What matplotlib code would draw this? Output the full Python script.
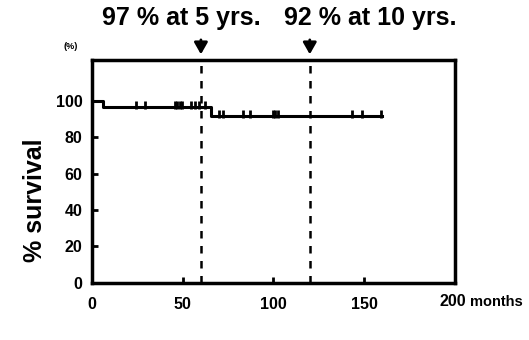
import matplotlib
matplotlib.use("Agg")
import matplotlib.pyplot as plt
import numpy as np

plt.rcParams['font.family'] = ['Liberation Sans', 'DejaVu Sans']
plt.rcParams['font.weight'] = 'bold'

# Kaplan-Meier step data (months, % survival)
step_times = [0, 6, 65.5, 160]
step_values = [100, 96.5, 91.5, 91.5]
censor_times = [24, 29, 45.5, 47, 48.5, 49.5, 54.5, 56.5, 59, 62,
                70, 72, 83, 87, 99.5, 101, 102.5, 143.5, 149, 159.5]
marker_times = [60, 120]
marker_labels = ["97 % at 5 yrs.", "92 % at 10 yrs."]
x_ticks = [0, 50, 100, 150, 200]
y_ticks = [0, 20, 40, 60, 80, 100]

fig = plt.figure(figsize=(5.29, 3.40), dpi=100)
ax = fig.add_axes([0.174, 0.168, 0.686, 0.656])

ax.step(step_times, step_values, where='post', color='black', lw=2.2)

def level_at(t):
    idx = np.searchsorted(step_times, t, side='right') - 1
    return step_values[idx]

cy = [level_at(t) + 1.4 for t in censor_times]
ax.scatter(censor_times, cy, marker='|', s=26, color='black', linewidths=2, zorder=3)

for t in marker_times:
    ax.axvline(t, color='black', lw=1.8, ls=(0, (3, 3)))

ax.set_xlim(0, 200)
ax.set_ylim(0, 122.5)
ax.set_xticks(x_ticks)
ax.set_xticklabels([str(v) for v in x_ticks[:-1]] + [""])
ax.set_yticks(y_ticks)
ax.tick_params(direction='in', length=4, width=2, labelsize=11.5)
ax.tick_params(axis='x', pad=10)
ax.tick_params(axis='y', pad=7)
for s in ax.spines.values():
    s.set_linewidth(2.5)

xt = ax.get_xaxis_transform()
ax.text(199, -0.085, "200", ha='center', va='center', fontsize=11.5,
        fontweight='bold', transform=xt)
ax.text(208.5, -0.085, "months", ha='left', va='center', fontsize=10.5,
        fontweight='bold', transform=xt)
ax.text(-12, 130, "(%)", ha='center', va='center', fontsize=6.5, fontweight='bold')
fig.text(35 / 529, 1 - 200 / 340, "% survival", rotation=90, ha='center',
         va='center', fontsize=18, fontweight='bold')

label_x = [49, 153.5]
for t, lab, lx in zip(marker_times, marker_labels, label_x):
    ax.annotate("", xy=(t, 124), xytext=(t, 135),
                arrowprops=dict(arrowstyle='-|>,head_width=0.4,head_length=0.7',
                                color='black', lw=2), annotation_clip=False)
    ax.text(lx, 145.5, lab, ha='center', va='center', fontsize=18,
            fontweight='bold', clip_on=False)

fig.savefig("out.png", dpi=100)
